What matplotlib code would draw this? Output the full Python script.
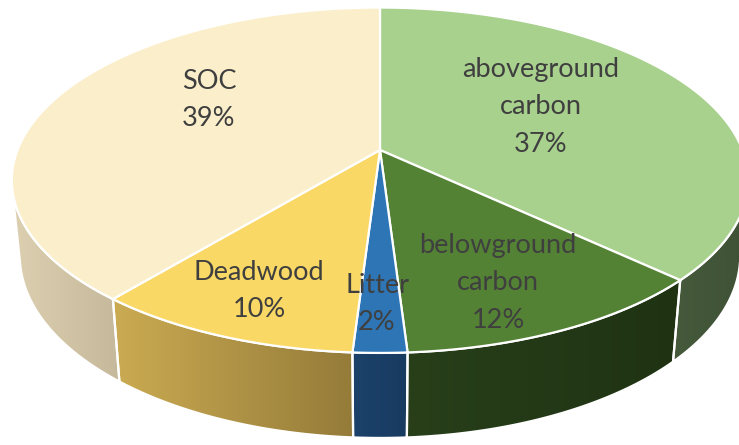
import numpy as np
import matplotlib
matplotlib.use("Agg")
import matplotlib.pyplot as plt
from matplotlib.patches import Polygon
from matplotlib.colors import to_rgb

# carbon pools, clockwise from 12 o'clock
categories = ["aboveground\ncarbon", "belowground\ncarbon", "Litter", "Deadwood", "SOC"]
shares = [37, 12, 2, 10, 39]

# style
top_colors = ["#A9D18E", "#548235", "#2E75B6", "#F9D865", "#FBEFCB"]
wall_colors = [("#45593B", "#3F5236"),
               ("#283F1A", "#1F3313"),
               ("#1C426B", "#183B60"),
               ("#CBAB52", "#947B39"),
               ("#DDD0B1", "#C6B99B")]
label_xy = [(541, 107), (498, 283), (377, 304), (259, 291), (209, 100)]
TEXT_COLOR = "#3F3F3F"

# camera for the 3-D look
ELEV = np.radians(27.5)
DIST = 5.065
FOCAL = 1836.0
CX, CY = 380.0, 150.0
THICK = 0.2375


def project(x, y, z):
    s, c = np.sin(ELEV), np.cos(ELEV)
    w = DIST + y * c - z * s
    v = y * s + z * c
    return CX + FOCAL * x / w, CY - FOCAL * v / w


def arc(a0, a1, z, n=240):
    t = np.radians(np.linspace(a0, a1, n))
    px, py = project(np.cos(t), np.sin(t), np.full(n, z))
    return np.column_stack([px, py])


fig = plt.figure(figsize=(7.39, 4.45), dpi=100)
ax = fig.add_axes([0, 0, 1, 1])

total = float(sum(shares))
cum = np.concatenate([[0.0], np.cumsum(shares)]) / total
starts = 90 - 360 * cum[:-1]
ends = 90 - 360 * cum[1:]

# part of the rim that faces the camera
lim = np.degrees(np.arcsin(1.0 / (DIST * np.cos(ELEV))))
vis_lo, vis_hi = -180 + lim, -lim

for i in range(len(shares)):
    lo = max(ends[i], vis_lo)
    hi = min(starts[i], vis_hi)
    if lo >= hi:
        continue
    top = arc(hi, lo, 0.0)
    bot = arc(lo, hi, -THICK)
    pts = np.vstack([top, bot])
    wall = Polygon(pts, closed=True, facecolor="none", edgecolor="none")
    ax.add_patch(wall)
    c0, c1 = np.array(to_rgb(wall_colors[i][0])), np.array(to_rgb(wall_colors[i][1]))
    f = np.linspace(0, 1, 256)[:, None]
    grad = (c0 * (1 - f) + c1 * f)[None, :, :]
    x0, x1 = pts[:, 0].min(), pts[:, 0].max()
    y0, y1 = pts[:, 1].min(), pts[:, 1].max()
    im = ax.imshow(grad, extent=[x0, x1, y1, y0], aspect="auto",
                   interpolation="bilinear", zorder=1)
    im.set_clip_path(wall)
    ax.add_patch(Polygon(pts, closed=True, facecolor="none",
                         edgecolor="white", lw=1.6, zorder=2))

for i in range(len(shares)):
    pts = np.vstack([[project(0.0, 0.0, 0.0)], arc(starts[i], ends[i], 0.0)])
    ax.add_patch(Polygon(pts, closed=True, facecolor=top_colors[i],
                         edgecolor="white", lw=1.6, joinstyle="round", zorder=3))

for i, name in enumerate(categories):
    x, y = label_xy[i]
    ax.text(x, y, f"{name}\n{shares[i]}%", ha="center", va="center",
            fontsize=19.5, family="Lato", color=TEXT_COLOR,
            linespacing=1.6, zorder=5)

ax.set_xlim(0, 739)
ax.set_ylim(445, 0)
ax.axis("off")
fig.savefig("out.png", dpi=100)
